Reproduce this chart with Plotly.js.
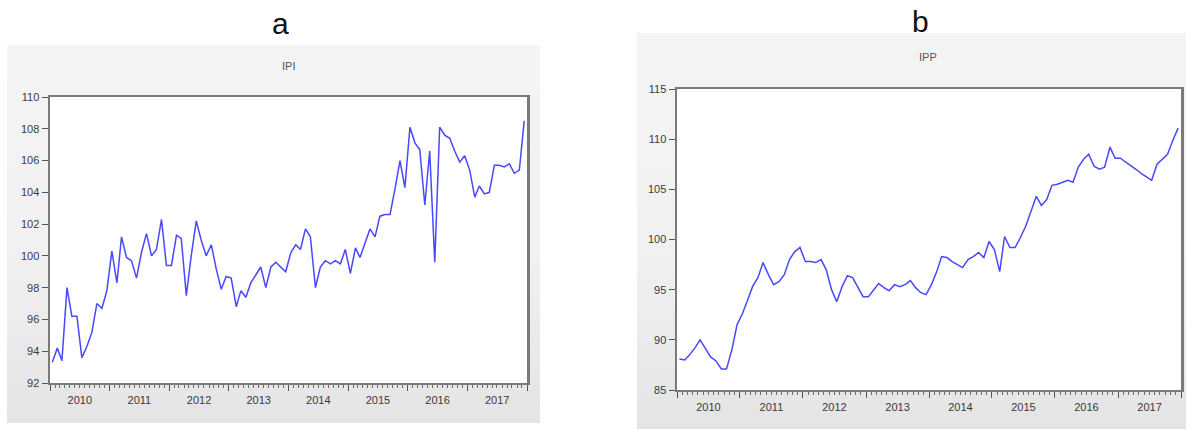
<!DOCTYPE html>
<html>
<head>
<meta charset="utf-8">
<script src="https://cdn.plot.ly/plotly-3.0.1.min.js"></script>
<style>
  html, body { margin: 0; padding: 0; background: #ffffff; }
  #wrap { position: relative; width: 1186px; height: 429px; overflow: hidden; }
  .panel { position: absolute; background: linear-gradient(#f4f4f4 0%, #f1f1f1 55%, #e4e4e4 100%); }
  #panelA { left: 7px; top: 45px; width: 533px; height: 378px; }
  #panelB { left: 637px; top: 33px; width: 549px; height: 396px; }
  #chart { position: absolute; left: 0; top: 0; width: 1186px; height: 429px; }
</style>
</head>
<body>
<div id="wrap">
  <div class="panel" id="panelA"></div>
  <div class="panel" id="panelB"></div>
  <div id="chart"></div>
</div>
<script>
// Monthly series, January 2010 to December 2017
const startYear = 2010;
const endYear = 2017;

// Industrial production index
const ipi = [
  93.3, 94.2, 93.4, 98.0, 96.2, 96.2, 93.6, 94.3, 95.2, 97.0, 96.7, 97.8,
  100.3, 98.3, 101.2, 99.9, 99.7, 98.6, 100.2, 101.4, 100.0, 100.4, 102.3, 99.4,
  99.4, 101.3, 101.1, 97.5, 100.0, 102.2, 101.0, 100.0, 100.7, 99.2, 97.9, 98.7,
  98.6, 96.8, 97.8, 97.4, 98.3, 98.8, 99.3, 98.0, 99.3, 99.6, 99.3, 99.0,
  100.2, 100.7, 100.4, 101.7, 101.2, 98.0, 99.3, 99.7, 99.5, 99.7, 99.5, 100.4,
  98.9, 100.5, 99.9, 100.8, 101.7, 101.2, 102.5, 102.6, 102.6, 104.2, 106.0, 104.3,
  108.1, 107.1, 106.7, 103.2, 106.6, 99.6, 108.1, 107.6, 107.4, 106.6, 105.9, 106.3,
  105.4, 103.7, 104.4, 103.9, 104.0, 105.7, 105.7, 105.6, 105.8, 105.2, 105.4, 108.5
];

// Industrial producer prices
const ipp = [
  88.1, 88.0, 88.5, 89.2, 90.0, 89.1, 88.3, 87.9, 87.1, 87.1, 89.0, 91.5,
  92.6, 94.0, 95.3, 96.2, 97.7, 96.5, 95.5, 95.8, 96.5, 98.0, 98.8, 99.2,
  97.8, 97.8, 97.7, 98.0, 97.0, 95.0, 93.8, 95.3, 96.4, 96.2, 95.2, 94.3,
  94.3, 95.0, 95.6, 95.2, 94.9, 95.5, 95.3, 95.5, 95.9, 95.2, 94.7, 94.5,
  95.5, 96.8, 98.3, 98.2, 97.8, 97.5, 97.2, 98.0, 98.3, 98.7, 98.2, 99.8,
  99.0, 96.8, 100.3, 99.2, 99.2, 100.2, 101.3, 102.8, 104.3, 103.4, 104.0, 105.4,
  105.5, 105.7, 105.9, 105.7, 107.2, 108.0, 108.5, 107.3, 107.0, 107.2, 109.2, 108.1,
  108.1, 107.7, 107.4, 107.0, 106.6, 106.2, 105.9, 107.5, 108.0, 108.5, 109.9, 111.1
];

const ipiTicks = [92, 94, 96, 98, 100, 102, 104, 106, 108, 110];
const ippTicks = [85, 90, 95, 100, 105, 110, 115];

// One date per observation, plotted at mid-month
const dates = [];
for (let y = startYear; y <= endYear; y++) {
  for (let m = 1; m <= 12; m++) {
    dates.push(y + '-' + String(m).padStart(2, '0') + '-15');
  }
}

const W = 1186, H = 429;
const px = v => v / W;
const py = v => 1 - v / H;

const lineColor = '#4848ff';
const tickFont = { family: 'Liberation Sans, Arial, sans-serif', size: 11, color: '#3a3a3a' };

function xAxis(domain, anchor) {
  return {
    domain: domain, anchor: anchor, type: 'date',
    range: [startYear + '-01-01', (endYear + 1) + '-01-01'],
    dtick: 'M12', tick0: startYear + '-01-01', tickformat: '%Y',
    ticklabelmode: 'period',
    ticks: 'outside', ticklen: 6, tickwidth: 1, tickcolor: '#555555',
    minor: { dtick: 'M1', ticks: 'outside', ticklen: 3, tickwidth: 1, tickcolor: '#6a6a6a', showgrid: false },
    showgrid: false, zeroline: false,
    showline: true, mirror: true, linecolor: '#7a7a7a', linewidth: 2,
    tickfont: tickFont, fixedrange: true
  };
}

function yAxis(domain, anchor, vals) {
  return {
    domain: domain, anchor: anchor,
    range: [vals[0], vals[vals.length - 1]],
    tickvals: vals, ticktext: vals.map(String),
    ticks: 'outside', ticklen: 6, tickwidth: 1, tickcolor: '#555555',
    showgrid: false, zeroline: false,
    showline: true, mirror: true, linecolor: '#7a7a7a', linewidth: 2.5,
    tickfont: tickFont, fixedrange: true
  };
}

const traces = [
  { x: dates, y: ipi, type: 'scatter', mode: 'lines', xaxis: 'x', yaxis: 'y',
    line: { color: lineColor, width: 1.5 }, name: 'IPI', hoverinfo: 'skip' },
  { x: dates, y: ipp, type: 'scatter', mode: 'lines', xaxis: 'x2', yaxis: 'y2',
    line: { color: lineColor, width: 1.5 }, name: 'IPP', hoverinfo: 'skip' }
];

const layout = {
  width: W, height: H,
  margin: { l: 0, r: 0, t: 0, b: 0 },
  paper_bgcolor: 'rgba(0,0,0,0)',
  plot_bgcolor: '#ffffff',
  showlegend: false,
  xaxis: xAxis([px(50), px(527)], 'y'),
  yaxis: yAxis([py(383), py(97)], 'x', ipiTicks),
  xaxis2: xAxis([px(677), px(1181)], 'y2'),
  yaxis2: yAxis([py(390), py(89)], 'x2', ippTicks),
  annotations: [
    { text: 'a', xref: 'paper', yref: 'paper', x: px(280), y: py(24), xanchor: 'center', yanchor: 'middle',
      showarrow: false, font: { family: 'Liberation Sans, Arial, sans-serif', size: 30, color: '#111111' } },
    { text: 'b', xref: 'paper', yref: 'paper', x: px(920), y: py(21), xanchor: 'center', yanchor: 'middle',
      showarrow: false, font: { family: 'Liberation Sans, Arial, sans-serif', size: 30, color: '#111111' } },
    { text: 'IPI', xref: 'paper', yref: 'paper', x: px(288), y: py(66), xanchor: 'center', yanchor: 'middle',
      showarrow: false, font: { family: 'Liberation Sans, Arial, sans-serif', size: 11, color: '#555555' } },
    { text: 'IPP', xref: 'paper', yref: 'paper', x: px(928), y: py(57), xanchor: 'center', yanchor: 'middle',
      showarrow: false, font: { family: 'Liberation Sans, Arial, sans-serif', size: 11, color: '#555555' } }
  ]
};

Plotly.newPlot('chart', traces, layout, { displayModeBar: false, staticPlot: true });
</script>
</body>
</html>
